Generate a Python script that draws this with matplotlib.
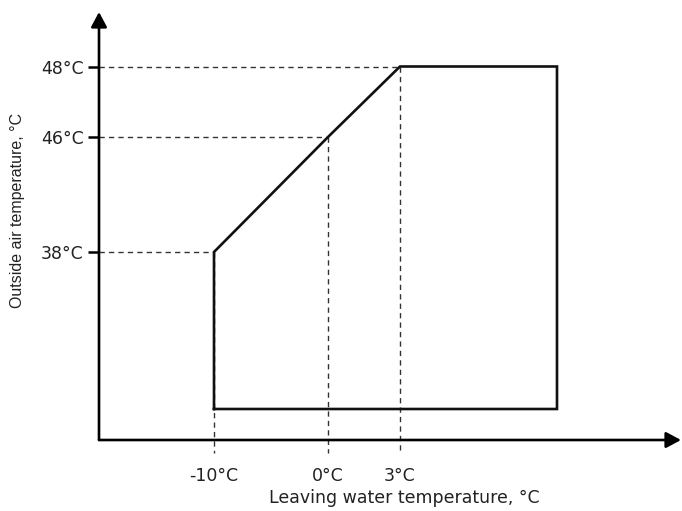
import numpy as np
import matplotlib
matplotlib.use("Agg")
import matplotlib.pyplot as plt

# operating envelope (schematic, not to scale)
x_ticks = [-10, 0, 3]
x_tick_labels = ["-10°C", "0°C", "3°C"]
y_ticks = [38, 46, 48]
y_tick_labels = ["38°C", "46°C", "48°C"]

x_max = 10   # right edge, not labelled on the chart
y_min = 25   # bottom edge, not labelled on the chart

envelope_x = [-10, -10, 0, 3, x_max, x_max, -10]
envelope_y = [y_min, 38, 46, 48, 48, y_min, y_min]

# layout: where the values sit on the page (pixels), diagram is not to scale
W, H = 682, 511
x_px = [214, 328, 400, 557]          # for -10, 0, 3, x_max
y_px = [409, 252, 137, 66.5]         # for y_min, 38, 46, 48 (from top)
origin_px = (99, 440)
x_tip_px, y_tip_px = 681, 12
guide_bottom_px = 453


def piecewise(src, dst):
    src = np.asarray(src, float)
    dst = np.asarray(dst, float)
    s0 = (dst[1] - dst[0]) / (src[1] - src[0])
    s1 = (dst[-1] - dst[-2]) / (src[-1] - src[-2])

    def f(v):
        v = np.asarray(v, float)
        out = np.interp(v, src, dst)
        out = np.where(v < src[0], dst[0] + (v - src[0]) * s0, out)
        out = np.where(v > src[-1], dst[-1] + (v - src[-1]) * s1, out)
        return out
    return f


xd = [-10, 0, 3, x_max]
yd = [y_min, 38, 46, 48]
yh = [H - p for p in y_px]
fx, ix = piecewise(xd, x_px), piecewise(x_px, xd)
fy, iy = piecewise(yd, yh), piecewise(yh, yd)

fig = plt.figure(figsize=(W / 100, H / 100), dpi=100)
ax = fig.add_axes([0, 0, 1, 1])
ax.set_xscale("function", functions=(fx, ix))
ax.set_yscale("function", functions=(fy, iy))
ax.set_xlim(float(ix(0)), float(ix(W)))
ax.set_ylim(float(iy(0)), float(iy(H)))

x0 = float(ix(origin_px[0]))
y0 = float(iy(H - origin_px[1]))
x_tip = float(ix(x_tip_px))
y_tip = float(iy(H - y_tip_px))
y_guide = float(iy(H - guide_bottom_px))

# dashed guides
for xv, yv in zip(x_ticks, y_ticks):
    ax.plot([x0, xv], [yv, yv], color="#333333", lw=1.0,
            linestyle=(0, (3.8, 3)), zorder=1)
    ax.plot([xv, xv], [yv, y_guide], color="#333333", lw=1.0,
            linestyle=(0, (3.8, 3)), zorder=1)

# envelope
ax.plot(envelope_x, envelope_y, color="#111111", lw=1.9,
        solid_joinstyle="miter", zorder=3)

# axes with arrows
arrow = dict(arrowstyle="-|>,head_length=0.6,head_width=0.32", color="black",
             lw=1.9, shrinkA=0, shrinkB=0, mutation_scale=15)
ax.annotate("", xy=(x_tip, y0), xytext=(x0, y0), arrowprops=arrow)
ax.annotate("", xy=(x0, y_tip), xytext=(x0, y0), arrowprops=arrow)

for s in ax.spines.values():
    s.set_visible(False)
ax.spines["left"].set_position(("data", x0))
ax.spines["bottom"].set_position(("data", y0))

ax.set_xticks(x_ticks, x_tick_labels)
ax.set_yticks(y_ticks, y_tick_labels)
ax.xaxis.set_minor_locator(plt.NullLocator())
ax.yaxis.set_minor_locator(plt.NullLocator())
ax.tick_params(axis="x", length=0, pad=19.5, labelsize=12.5, labelcolor="#222222")
ax.tick_params(axis="y", length=8, width=1.8, direction="out", pad=3,
               labelsize=12.5, labelcolor="#222222")

ax.set_xlabel("Leaving water temperature, °C", fontsize=12.5, color="#222222")
ax.xaxis.set_label_coords(404 / W, (H - 489) / H)
ax.set_ylabel("Outside air temperature, °C", fontsize=11.5, color="#222222",
              family="Liberation Sans")
ax.yaxis.set_label_coords(25 / W, (H - 210) / H)

fig.savefig("out.png", dpi=100)
